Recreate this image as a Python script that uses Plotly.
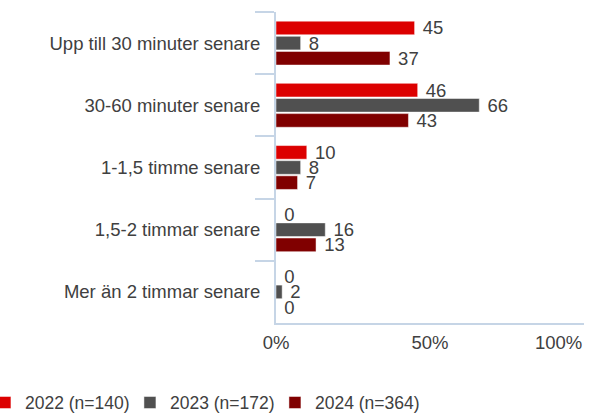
import plotly.graph_objects as go

categories = ["Upp till 30 minuter senare", "30-60 minuter senare", "1-1,5 timme senare",
              "1,5-2 timmar senare", "Mer än 2 timmar senare"]
series_names = ["2022 (n=140)", "2023 (n=172)", "2024 (n=364)"]
values_2022 = [45, 46, 10, 0, 0]
values_2023 = [8, 66, 8, 16, 2]
values_2024 = [37, 43, 7, 13, 0]
colors = ["#dc0000", "#505050", "#800000"]
tick_vals = [0, 50, 100]
tick_text = ["0%", "50%", "100%"]

FONT = "Liberation Sans, Arial, sans-serif"
TXT = "#404040"
AX = "#c6d5e6"
FS = 18.5

fig = go.Figure()
for name, vals, col in zip(series_names, [values_2022, values_2023, values_2024], colors):
    fig.add_trace(go.Bar(
        y=categories, x=vals, name=name, orientation="h",
        marker=dict(color=col, line=dict(color="rgba(255,255,255,0.6)", width=0.8)),
        text=[str(v) for v in vals], texttemplate="\u00a0%{text}", textposition="outside",
        constraintext="none", cliponaxis=False,
        textfont=dict(family=FONT, size=FS, color=TXT),
    ))

fig.update_layout(
    width=595, height=414,
    margin=dict(l=276, r=11, t=12, b=91, autoexpand=False),
    barmode="group", bargap=0.27, bargroupgap=0.1,
    plot_bgcolor="white", paper_bgcolor="white",
    font=dict(family=FONT, size=FS, color=TXT),
    showlegend=True,
    legend=dict(orientation="h", x=-0.945, xref="paper", xanchor="left",
                y=-0.256, yref="paper", yanchor="middle",
                font=dict(family=FONT, size=17.5, color=TXT),
                itemwidth=30, entrywidth=100, traceorder="normal"),
    xaxis=dict(range=[0, 100], tickvals=tick_vals[:2], ticktext=tick_text[:2],
               showgrid=False, zeroline=False, showline=True, linecolor=AX, linewidth=2,
               ticks="outside", ticklen=2, tickcolor="rgba(0,0,0,0)",
               tickfont=dict(family=FONT, size=FS, color=TXT)),
    yaxis=dict(autorange="reversed", showgrid=False, zeroline=False,
               showline=True, linecolor=AX, linewidth=2,
               ticks="outside", tickson="boundaries", ticklen=19, tickcolor=AX, tickwidth=2,
               ticklabelstandoff=10,
               tickfont=dict(family=FONT, size=FS, color=TXT)),
)
fig.add_annotation(x=tick_vals[2], xref="x", y=0, yref="paper", yanchor="top", yshift=-7,
                   xanchor="right", text=tick_text[2], showarrow=False,
                   font=dict(family=FONT, size=FS, color=TXT))

fig.write_html("out.html", config={"displayModeBar": False},
               post_script="document.body.style.margin='0';document.body.style.overflow='hidden';")
